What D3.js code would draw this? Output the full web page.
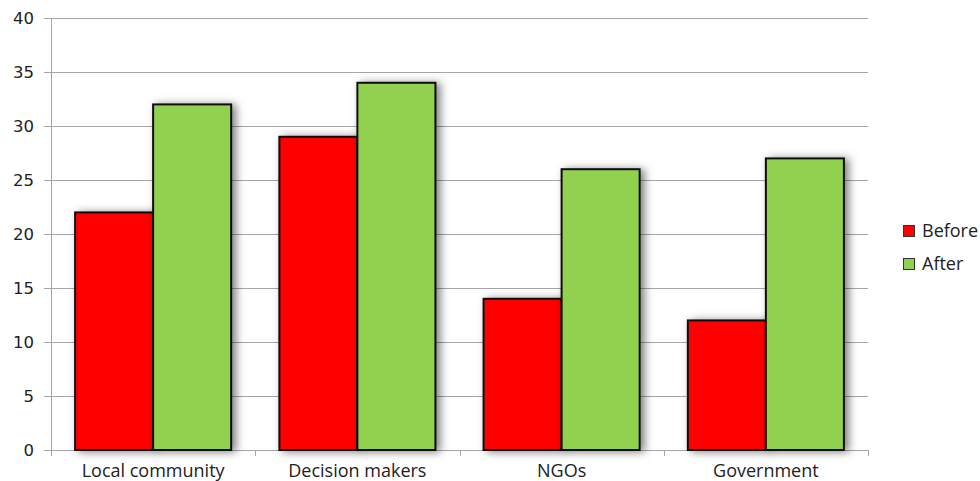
<!DOCTYPE html>
<html>
<head>
<meta charset="utf-8">
<script src="https://cdn.jsdelivr.net/npm/d3@7"></script>
<style>
  html, body { margin: 0; padding: 0; background: #fff; }
  svg { display: block; }
</style>
</head>
<body>
<svg id="chart" width="980" height="481"></svg>
<script>
// Survey results per stakeholder group, before and after
const categories = ["Local community", "Decision makers", "NGOs", "Government"];
const seriesNames = ["Before", "After"];
const beforeValues = [22, 29, 14, 12];
const afterValues = [32, 34, 26, 27];
const yTicks = [0, 5, 10, 15, 20, 25, 30, 35, 40];
const seriesColors = ["#ff0000", "#92d050"];

const svg = d3.select("#chart");
const margin = { left: 51, right: 112, top: 18, bottom: 31 };
const W = 980, H = 481;
const plotW = W - margin.left - margin.right;
const plotH = H - margin.top - margin.bottom;

const defs = svg.append("defs");
const f = defs.append("filter").attr("id", "shadow")
  .attr("x", "-30%").attr("y", "-10%").attr("width", "160%").attr("height", "130%");
f.append("feDropShadow").attr("dx", 4).attr("dy", 1).attr("stdDeviation", 4)
  .attr("flood-color", "#000").attr("flood-opacity", 0.5);

const g = svg.append("g").attr("transform", `translate(${margin.left},${margin.top})`);

const x = d3.scaleBand().domain(categories).range([0, plotW])
  .paddingInner(0.236).paddingOuter(0.118);
const xs = d3.scaleBand().domain(seriesNames).range([0, x.bandwidth()]);
const y = d3.scaleLinear().domain([0, 40]).range([plotH, 0]);

// Horizontal gridlines
g.append("g").selectAll("line").data(yTicks.filter(d => d > 0)).join("line")
  .attr("x1", 0).attr("x2", plotW)
  .attr("y1", d => Math.round(y(d)) + 0.5).attr("y2", d => Math.round(y(d)) + 0.5)
  .attr("stroke", "#a6a6a6").attr("stroke-width", 1);

// Y axis
const yAxis = g.append("g")
  .call(d3.axisLeft(y).tickValues(yTicks).tickSize(7).tickPadding(10));
yAxis.select(".domain").attr("stroke", "#a6a6a6");
yAxis.selectAll(".tick line").attr("stroke", "#a6a6a6");
yAxis.selectAll("text").attr("font-family", "DejaVu Sans, Verdana, sans-serif")
  .attr("font-size", 16.5).attr("fill", "#222");

// X axis with boundary tick marks between groups
const xAxis = g.append("g").attr("transform", `translate(0,${plotH})`);
xAxis.append("line").attr("x1", 0).attr("x2", plotW).attr("y1", 0.5).attr("y2", 0.5)
  .attr("stroke", "#a6a6a6");
const step = x.step();
const boundaries = d3.range(categories.length + 1).map(i => i * step);
xAxis.selectAll("line.b").data(boundaries).join("line").attr("class", "b")
  .attr("x1", d => Math.round(d) + 0.5).attr("x2", d => Math.round(d) + 0.5)
  .attr("y1", 0).attr("y2", 6).attr("stroke", "#a6a6a6");
xAxis.selectAll("text").data(categories).join("text")
  .attr("x", d => x(d) + x.bandwidth() / 2).attr("y", 26.5)
  .attr("text-anchor", "middle")
  .attr("font-family", "Open Sans, sans-serif").attr("font-size", 18).attr("fill", "#222")
  .text(d => d);

// Bars
const rows = categories.map((c, i) => ({ c, vals: [beforeValues[i], afterValues[i]] }));
const groups = g.selectAll("g.grp").data(rows).join("g").attr("class", "grp")
  .attr("transform", d => `translate(${x(d.c)},0)`);
groups.selectAll("rect").data(d => d.vals.map((v, j) => ({ s: seriesNames[j], v, j })))
  .join("rect")
  .attr("x", d => xs(d.s)).attr("width", xs.bandwidth())
  .attr("y", d => y(d.v)).attr("height", d => y(0) - y(d.v))
  .attr("fill", d => seriesColors[d.j])
  .attr("stroke", "#111").attr("stroke-width", 2)
  .attr("filter", "url(#shadow)");

// Legend
const legend = svg.append("g").attr("transform", "translate(903,225)");
seriesNames.forEach((s, i) => {
  const row = legend.append("g").attr("transform", `translate(0,${i * 33})`);
  row.append("rect").attr("x", 0.5).attr("y", 0.5).attr("width", 11).attr("height", 11)
    .attr("fill", seriesColors[i]).attr("stroke", "#333").attr("stroke-width", 1);
  row.append("text").attr("x", 19).attr("y", 12)
    .attr("font-family", "Open Sans, sans-serif").attr("font-size", 18).attr("fill", "#222")
    .text(s);
});
</script>
</body>
</html>
